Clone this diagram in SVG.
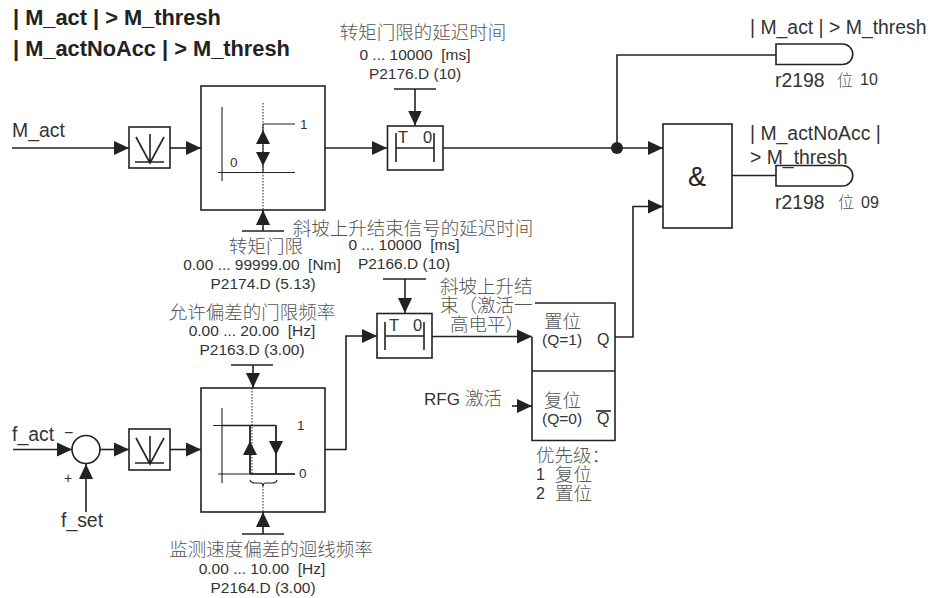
<svg xmlns="http://www.w3.org/2000/svg" width="928" height="598" viewBox="0 0 928 598">
<style>
text{font-family:"Liberation Sans","Noto Sans CJK SC",sans-serif;font-size:15.5px;fill:#333;white-space:pre}
.t{font-size:19.4px}
.b{font-size:21.8px;font-weight:bold;fill:#222}
.z{font-family:"Noto Sans CJK SC","Liberation Sans",sans-serif;font-size:18.5px;fill:#555;font-weight:300}
.m{text-anchor:middle}
.s{font-size:13.5px}
.k{font-size:16.5px}
.box{fill:none;stroke:#222;stroke-width:1.6}
.c{fill:none;stroke:#222;stroke-width:1.6}
.a{marker-end:url(#ah)}
.i{fill:none;stroke:#222;stroke-width:1.1}
.d{fill:none;stroke:#222;stroke-width:1;stroke-dasharray:1.5 1.5}
.h{fill:#222;stroke:none}
</style>
<defs>
<marker id="ah" markerUnits="userSpaceOnUse" markerWidth="15" markerHeight="15" refX="15" refY="7.5" orient="auto"><path d="M0,0.5L15,7.5L0,14.5z" fill="#222"/></marker>
</defs>
<rect width="928" height="598" fill="#fff"/>

<g id="connectors">
<path class="c a" d="M12,148H129"/>
<path class="c a" d="M170,148H201"/>
<path class="c a" d="M325,148H387"/>
<path class="c a" d="M443,148H663"/>
<path class="c" d="M617,148V55H776"/>
<path class="c" d="M732,175.500H776"/>
<path class="c a" d="M415,89V125.500"/>
<path class="c" d="M394,89H436"/>
<path class="c a" d="M263,231V210"/>
<path class="c" d="M242,231H284"/>
<path class="c a" d="M615,337H633V206.500H663"/>
<path class="c a" d="M325,449.500H346V336H377"/>
<path class="c a" d="M432,336.500H532"/>
<path class="c a" d="M405,279V313"/>
<path class="c" d="M383,279H426"/>
<path class="c a" d="M512,406H532"/>
<path class="c a" d="M13,449.500H72"/>
<path class="c a" d="M100,449.500H129"/>
<path class="c a" d="M170,449.500H201"/>
<path class="c a" d="M86,512V464"/>
<path class="c a" d="M253,365V388"/>
<path class="c" d="M231,365H273"/>
<path class="c a" d="M263,534V512"/>
<path class="c" d="M242,534H284"/>
<circle cx="617" cy="148" r="6" fill="#222"/>
</g>

<g id="title">
<text class="b" x="13" y="25">| M_act | &gt; M_thresh</text>
<text class="b" x="13" y="56">| M_actNoAcc | &gt; M_thresh</text>
</g>
<g id="label-m-act"><text class="t" x="12" y="137">M_act</text></g>

<g id="abs1">
<rect class="box" x="129" y="127" width="41" height="41"/>
<path class="c" d="M150,134V163M136,137L150,163L164,137M135,162H164"/>
</g>

<g id="threshold1">
<rect class="box" x="201" y="86" width="124" height="124"/>
<path class="i" d="M222,107V181M218,172.500H295M263,124V172.500M263,124H295"/>
<path class="d" d="M263,103V210"/>
<path class="h" d="M263,130L270,144H256z"/>
<path class="h" d="M263,166L270,152H256z"/>
<text class="s" x="300" y="129">1</text>
<text class="s" x="230" y="167">0</text>
</g>

<g id="timer1">
<rect class="box" x="387.500" y="126" width="55.500" height="44"/>
<path class="c" d="M396,133V162M434,133V162M396,148H434"/>
<text class="k" x="398" y="143">T</text>
<text class="k" x="423" y="143">0</text>
</g>

<g id="param-p2176">
<text class="z m" x="423" y="39">转矩门限的延迟时间</text>
<text class="m" x="415" y="60">0 ... 10000  [ms]</text>
<text class="m" x="415" y="79">P2176.D (10)</text>
</g>
<g id="param-p2174">
<text class="z m" x="266" y="253">转矩门限</text>
<text class="m" x="262" y="270">0.00 ... 99999.00  [Nm]</text>
<text class="m" x="263" y="289">P2174.D (5.13)</text>
</g>
<g id="param-p2166">
<text class="z m" x="413" y="235">斜坡上升结束信号的延迟时间</text>
<text class="m" x="404" y="250">0 ... 10000  [ms]</text>
<text class="m" x="404" y="269">P2166.D (10)</text>
</g>

<g id="and">
<rect class="box" x="663" y="124" width="69" height="104"/>
<text x="697" y="186" class="m" style="font-size:27px;fill:#222">&amp;</text>
</g>

<g id="out1">
<path class="box" d="M776,44H842.500A10.250,10.250 0 0 1 842.500,64.500H776z"/>
<text class="t" x="750" y="34">| M_act | &gt; M_thresh</text>
<text class="t" x="775" y="87">r2198</text>
<text class="z" x="837" y="86" style="font-size:16px">位</text>
<text x="860" y="85" style="font-size:16px">10</text>
</g>
<g id="out2">
<path class="box" d="M776,165.500H842.500A10.250,10.250 0 0 1 842.500,186H776z"/>
<text class="t" x="750" y="140">| M_actNoAcc |</text>
<text class="t" x="750" y="164">&gt; M_thresh</text>
<text class="t" x="775" y="209">r2198</text>
<text class="z" x="838" y="208" style="font-size:16px">位</text>
<text x="861" y="208" style="font-size:16px">09</text>
</g>

<g id="sum">
<circle class="box" cx="86" cy="449.500" r="14"/>
<text class="t" x="12" y="441">f_act</text>
<text x="64" y="438" style="font-size:16px">−</text>
<text x="64" y="483" style="font-size:14px">+</text>
<text class="t" x="61" y="527">f_set</text>
</g>

<g id="abs2">
<rect class="box" x="129" y="429" width="41" height="41"/>
<path class="c" d="M150,436V464M136,438L150,464L164,438M135,463H164"/>
</g>

<g id="threshold2">
<rect class="box" x="201" y="388" width="124" height="124"/>
<path class="i" d="M222,408V483M213,425.500H276V474M218,474H295M250,425.500V474"/>
<path class="c" d="M250,474H295M276,425.500V474M250,425.500V474M222,425.500H276"/>
<path class="d" d="M252,388V474M263,486V512"/>
<path class="h" d="M250,441L257,455H243z"/>
<path class="h" d="M276,455L283,441H269z"/>
<path class="i" d="M250,480Q251,483 255,483H260Q263,483 263,486Q263,483 266,483H272Q276,483 277,480"/>
<text class="s" x="297" y="430">1</text>
<text class="s" x="299" y="478">0</text>
</g>
<g id="param-p2163">
<text class="z m" x="252" y="319">允许偏差的门限频率</text>
<text class="m" x="252" y="336">0.00 ... 20.00  [Hz]</text>
<text class="m" x="252" y="355">P2163.D (3.00)</text>
</g>
<g id="param-p2164">
<text class="z m" x="271" y="556">监测速度偏差的迴线频率</text>
<text class="m" x="262" y="574">0.00 ... 10.00  [Hz]</text>
<text class="m" x="263" y="593">P2164.D (3.00)</text>
</g>

<g id="timer2">
<rect class="box" x="377" y="313.500" width="55" height="44.500"/>
<path class="c" d="M385,322V350M424,322V350M385,336H424"/>
<text class="k" x="389" y="331">T</text>
<text class="k" x="413" y="331">0</text>
</g>

<g id="flipflop">
<path class="box" d="M535,303H615V440.500H532V337M532,371H615"/>
<text class="z" x="544" y="328">置位</text>
<text x="542" y="345">(Q=1)</text>
<text x="597" y="345" style="font-size:16px">Q</text>
<text class="z" x="544" y="407">复位</text>
<text x="542" y="424">(Q=0)</text>
<text x="597" y="424" style="font-size:16px">Q</text>
<path class="c" d="M596,411H611"/>
</g>
<g id="label-ramp">
<text class="z" x="440" y="293">斜坡上升结</text>
<text class="z" x="440" y="312">束（激活一</text>
<text class="z" x="450" y="331">高电平）</text>
</g>
<g id="label-rfg">
<text x="424" y="405" style="font-size:17px">RFG</text>
<text class="z" x="465" y="405">激活</text>
</g>
<g id="label-priority">
<text class="z" x="536" y="462">优先级：</text>
<text x="536" y="480" style="font-size:16px">1</text><text class="z" x="555" y="481">复位</text>
<text x="536" y="499" style="font-size:16px">2</text><text class="z" x="555" y="500">置位</text>
</g>
</svg>
